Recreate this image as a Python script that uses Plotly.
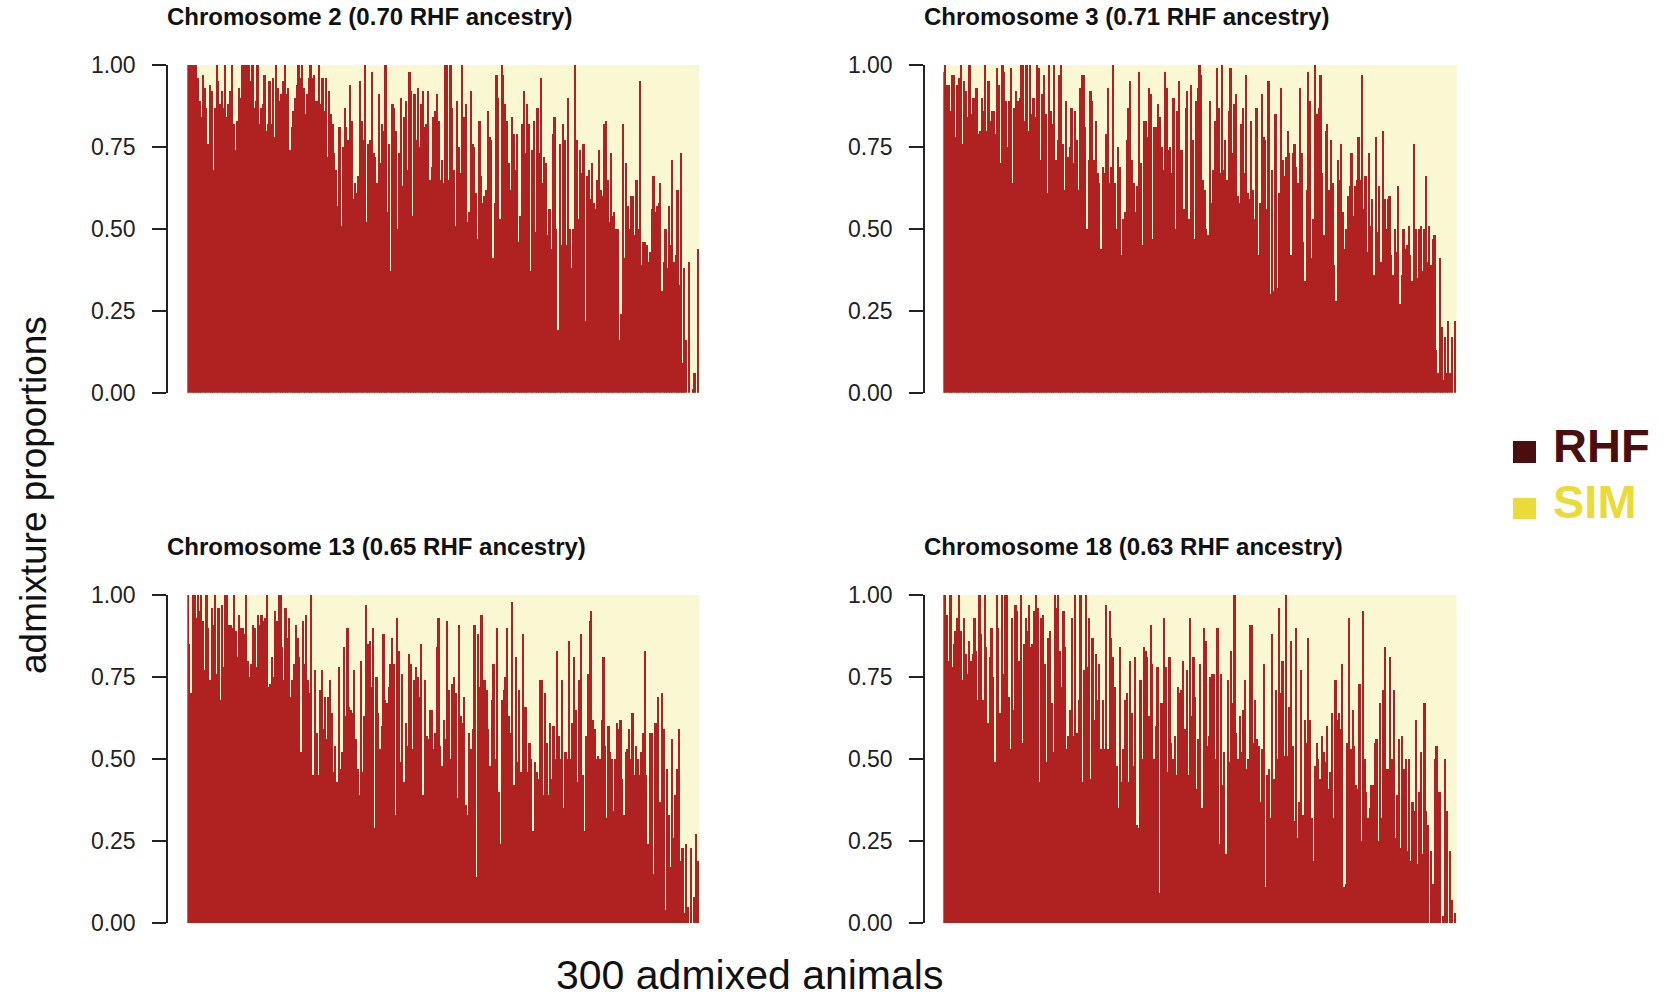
import plotly.graph_objects as go

chr2 = [1,1,1,1,1,1,.96,.89,.84,.97,.93,.87,.76,.94,.92,.68,.87,1,.95,.88,.92,.87,1,.84,.88,.92,1,.82,.74,.83,.93,.9,1,1,1,1,1,.95,1,.87,.89,1,.82,.87,.88,.97,.8,.82,.95,.82,.96,.78,1,.93,.89,.91,.95,1,.91,.93,.74,.81,.86,.9,.94,1,.96,1,.93,.85,.91,.96,1,.96,.97,.89,.89,1,.88,.96,.86,.96,.72,.92,.85,.82,.73,.68,.57,.81,.51,.75,.87,.81,.77,.94,.83,.59,.64,.61,.66,.95,.83,.77,1,.52,.76,.77,.98,.73,.72,.64,.91,.7,.82,.8,1,.55,.76,.37,.88,.87,.8,.5,.73,.9,.63,.84,.89,.68,.98,.92,.54,.91,.77,.93,.75,.88,.92,.81,.82,.92,.65,.69,.84,.86,.91,.83,.65,.71,.64,1,1,.65,1,
.87,.68,.51,.89,.75,.67,1,.84,.88,.52,.55,.92,.76,.75,.61,.47,.83,.66,.58,.6,.62,.86,.78,.77,.41,.58,.97,.9,.53,1,.97,.88,.83,.7,.62,.84,.79,.68,.79,.46,.54,.82,.92,.73,.88,.82,.37,.74,.83,.49,.87,.73,.96,.64,.72,.7,.48,.56,.44,.79,.84,.5,.19,.76,.45,.82,.77,.45,.9,.5,.38,.5,1,.77,.53,.74,.67,.76,.22,.66,.68,.59,.7,.58,.56,.65,.74,.62,.6,.82,.83,.65,.52,.73,.54,.55,.5,.5,.16,.24,.82,.41,.7,.57,.5,.6,.6,.48,.65,.5,.95,.39,.46,.46,.45,.4,.43,.56,.66,.55,.57,.58,.64,.31,.4,.5,.38,.57,.45,.71,.4,.42,.62,.33,.73,.09,.38,.16,0,.4,0,.01,.06,0,.44]

chr3 = [.98,1,.94,.94,.86,.97,.97,.78,.94,.96,1,.76,.95,.92,.84,1,.85,.9,.9,.93,.79,.8,.9,.86,1,.8,.95,.83,.86,.86,.79,.99,.94,.7,1,.98,.89,.75,.89,.99,.64,.87,.92,.89,.9,1,1,.83,1,.8,1,.85,.9,.84,1,.99,.71,.91,.97,.85,.61,1,.86,.82,1,.71,.77,.97,1,.76,.62,.89,.72,.75,.87,.7,.86,.77,.62,.93,.97,.97,.81,.5,.71,.92,.89,.71,.83,.67,.64,.44,.69,.67,.79,.93,.64,.69,1,.64,.5,.75,.69,.42,.53,.55,.77,.87,.95,.71,.64,.55,.63,.98,.7,.45,.83,.83,.78,.93,.91,.47,.81,.81,.88,.84,.75,.68,.98,.93,.74,.75,.67,.9,.5,.86,.95,.74,.74,.56,.87,.92,.53,.94,.77,.47,.89,.93,1,.97,
.65,.62,.5,.48,.89,.58,.68,.83,.99,.87,.67,1,.68,.77,.65,.86,.99,.73,.88,.91,.6,.58,.82,.87,.67,.97,.61,.59,.83,.62,.53,.87,.42,.58,.91,.78,.77,.56,.95,.3,.68,.31,.85,.32,.61,.93,.71,.66,.72,.8,.73,.42,.73,.76,.69,.64,.93,.73,.46,.34,.62,.98,.89,.41,.53,1,.85,.87,.97,.67,.48,.8,.82,.62,.77,.64,.39,.28,.71,.65,.76,.55,.44,.5,.6,.63,.73,.54,.63,.65,.78,.65,.97,.56,.66,.43,.73,.51,.59,.36,.78,.49,.63,.4,.8,.59,.5,.59,.6,.42,.36,.5,.43,.63,.27,.36,.5,.44,.45,.51,.42,.34,.76,.5,.35,.5,.51,.37,.5,.66,.4,.51,.39,.47,.48,.13,.06,.41,.2,.04,.17,.06,.22,.06,.17,0,.22]

chr13 = [1,.85,.7,1,1,.93,1,.95,1,.92,.77,1,.9,.74,.96,.91,1,.76,.96,.68,.97,.78,1,1,.91,.91,.9,1,.89,.81,.94,.9,.9,.88,1,.8,.75,.79,.91,.9,.78,.94,.91,.94,.92,.93,1,.72,.73,.81,.75,.95,.92,1,1,.84,.74,.96,.87,.93,.69,.74,.79,.91,.87,.81,.52,.92,.79,.94,.74,.7,1,.45,.77,.58,.45,.71,.77,.59,.69,.56,.69,.74,.64,.46,.54,.43,.78,.47,.52,.84,.63,.9,.66,.65,.64,.77,.56,.47,.39,.8,.46,.63,.97,.85,.86,.72,.9,.29,.75,.64,.53,.6,.88,.68,.67,.72,.79,.87,.79,.33,.93,.83,.49,.76,.43,.61,.54,.82,.79,.53,.74,.78,.75,.69,.85,.39,.74,.57,.56,.65,.65,.53,.58,.84,.93,.54,.48,.62,.56,.92,.71,
.5,.73,.75,.7,.38,.91,.63,.61,.69,.36,.33,.58,.53,.59,.91,.14,.88,.72,.94,.74,.74,.71,.59,.48,.68,.79,.5,.9,.4,.24,.68,.71,.75,.9,.63,.58,.98,.42,.81,.49,.71,.46,.88,.66,.66,.46,.55,.5,.28,.49,.46,.44,.74,.74,.39,.7,.55,.39,.61,.44,.6,.5,.83,.57,.5,.74,.35,.52,.5,.86,.5,.61,.81,.65,.43,.74,.88,.45,.28,.57,.76,.92,.95,.62,.59,.5,.51,.5,.62,.81,.54,.32,.6,.52,.5,.34,.5,.61,.59,.62,.44,.33,.52,.53,.59,.5,.64,.45,.54,.5,.45,.52,.58,.83,.45,.24,.58,.58,.15,.61,.61,.69,.37,.7,.59,.04,.47,.33,.17,.56,.26,.39,.47,.59,.19,.23,.03,.24,.05,0,.23,0,.08,.27,.19]

chr18 = [1,1,.94,.8,1,.78,.85,.89,.93,1,.89,.74,.93,.82,.76,.86,.8,.82,.93,.83,.68,1,.88,.68,1,.84,.61,.81,.9,.75,.49,1,.9,.64,1,.76,1,1,.69,.53,.93,.65,.97,.95,.8,1,.55,.85,.93,.89,.97,.84,.85,.95,1,.96,.43,.93,.94,.79,.49,.87,.89,.67,.52,1,.96,1,.83,.72,.95,.84,.53,.57,.65,.93,.57,1,.58,.68,1,.43,.77,1,.78,.93,.44,.87,.62,.82,.68,.79,.53,.68,.53,.97,.53,.95,.87,.81,.72,.48,.35,.84,.43,.53,.68,.7,.43,.8,.64,.48,.81,.3,.29,.74,.5,.84,.83,.81,.63,.91,.79,.5,.6,.78,.09,.67,.67,.93,.78,.46,.81,.55,.5,.57,.45,.72,.7,.71,.8,.59,.77,.45,.93,.63,.81,.69,.41,.56,.79,.35,.9,.86,
.54,.57,.75,.76,.76,.5,.9,.24,.76,.42,.52,.21,.74,.49,.83,.67,1,.58,.5,.63,.52,.65,.74,.47,.5,.91,.91,.55,.68,.56,.54,.37,.53,.79,.11,.45,.47,.32,.88,.44,.71,.5,.96,.7,.8,.51,1,.51,.66,.86,.54,.31,.9,.26,.37,.77,.33,.62,.55,.87,.62,.32,.19,.48,.55,.5,.44,.57,.52,.49,.6,.41,.46,.64,.32,.74,.62,.64,.59,.79,.11,.12,.55,.93,.53,.65,.54,.42,.41,.73,.25,.95,.5,.4,.32,.35,.42,.42,.55,.56,.25,.67,.32,.71,.84,.47,.47,.81,.5,.71,.26,.39,.56,.23,.57,.47,.5,.22,.5,.19,.37,.34,.62,.18,.4,.52,.21,.67,.34,.3,0,.22,.12,.5,.54,.4,.4,0,.02,.5,.34,0,.22,.07,0,.03]

series = [chr2, chr3, chr13, chr18]
titles = ["Chromosome 2 (0.70 RHF ancestry)", "Chromosome 3 (0.71 RHF ancestry)",
          "Chromosome 13 (0.65 RHF ancestry)", "Chromosome 18 (0.63 RHF ancestry)"]
tick_vals = [0, 0.25, 0.5, 0.75, 1]
tick_text = ["0.00", "0.25", "0.50", "0.75", "1.00"]

W, H = 1668, 1001
FONT = "Liberation Sans"
RED = "#B02121"
CREAM = "#FAF8D2"

# left, right, top, bottom in pixels; axis x; title x,y
panels = [(187.3, 699.3, 65, 392.7, 167, 165, 16),
          (943.3, 1456.7, 65, 392.7, 924, 922, 16),
          (187.3, 699.3, 595, 923, 167, 165, 546),
          (943.3, 1456.7, 595, 923, 924, 922, 546)]

fig = go.Figure()
layout = dict(width=W, height=H, autosize=False,
              margin=dict(l=0, r=0, t=0, b=0, pad=0, autoexpand=False),
              paper_bgcolor="white", plot_bgcolor="rgba(0,0,0,0)", bargap=0, showlegend=False,
              font=dict(family=FONT, color="#222222"))
ann = []
shapes = []
for i, (vals, ttl, p) in enumerate(zip(series, titles, panels)):
    l, r, t, b, ax, tx, ty = p
    s = "" if i == 0 else str(i + 1)
    fig.add_trace(go.Bar(x=list(range(len(vals))), y=vals, xaxis="x" + s, yaxis="y" + s,
                         marker=dict(color=RED, line=dict(width=0)), width=1))
    layout["xaxis" + s] = dict(domain=[l / W, r / W], range=[-0.5, len(vals) - 0.5], visible=False,
                               anchor="y" + s)
    layout["yaxis" + s] = dict(domain=[(H - b) / H, (H - t) / H], range=[0, 1], anchor="free",
                               position=ax / W, showgrid=False, zeroline=False, showline=True,
                               linecolor="#222222", linewidth=1.5, ticks="outside", ticklen=14,
                               tickwidth=1.5, tickcolor="#222222", tickvals=tick_vals,
                               ticktext=tick_text, ticklabelstandoff=12,
                               tickfont=dict(family=FONT, size=23, color="#222222"))
    shapes.append(dict(type="rect", xref=f"x{s} domain", yref=f"y{s} domain", x0=0, x1=1, y0=0, y1=1,
                       fillcolor=CREAM, line=dict(width=0), layer="below"))
    ann.append(dict(text="<b>" + ttl + "</b>", x=tx, y=ty, xref="x5", yref="y5",
                    xanchor="left", yanchor="middle", showarrow=False,
                    font=dict(family=FONT, size=24, color="#111111")))

# invisible full-page axes in pixels, used only to place the texts
fig.add_trace(go.Scatter(x=[0, W], y=[0, H], mode="none", xaxis="x5", yaxis="y5", hoverinfo="skip"))
layout["xaxis5"] = dict(domain=[0, 1], range=[0, W], visible=False, anchor="y5")
layout["yaxis5"] = dict(domain=[0, 1], range=[H, 0], visible=False, anchor="x5")

ann.append(dict(text="admixture proportions", x=33, y=495, xref="x5", yref="y5",
                textangle=-90, showarrow=False, xanchor="center", yanchor="middle",
                font=dict(family=FONT, size=37, color="#111111")))
ann.append(dict(text="300 admixed animals", x=749, y=975, xref="x5", yref="y5",
                showarrow=False, xanchor="center", yanchor="middle",
                font=dict(family=FONT, size=41, color="#111111")))
ann.append(dict(text="<b>RHF</b>", x=1551, y=445, xref="x5", yref="y5",
                showarrow=False, xanchor="left", yanchor="middle",
                font=dict(family=FONT, size=47, color="#4A0E0E")))
ann.append(dict(text="<b>SIM</b>", x=1551, y=501, xref="x5", yref="y5",
                showarrow=False, xanchor="left", yanchor="middle",
                font=dict(family=FONT, size=47, color="#E9DC38")))

shapes += [dict(type="rect", xref="x5", yref="y5", x0=1513, x1=1536,
                y0=463, y1=441, fillcolor="#4A0E0E", line=dict(width=0)),
           dict(type="rect", xref="x5", yref="y5", x0=1513, x1=1536,
                y0=519, y1=498, fillcolor="#E9DC38", line=dict(width=0))]

fig.update_layout(**layout, annotations=ann, shapes=shapes)
fig.write_html("out.html", config={"displayModeBar": False},
               post_script="document.body.style.margin='0';")
